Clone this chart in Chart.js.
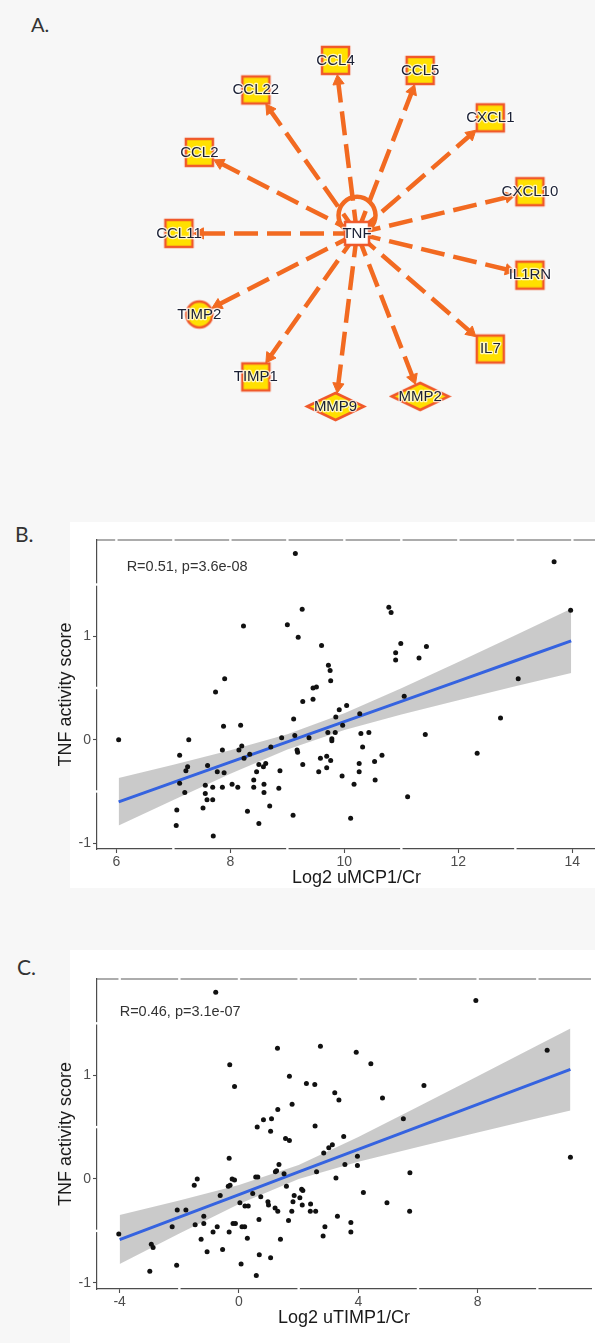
<!DOCTYPE html>
<html><head><meta charset="utf-8">
<script src="https://cdn.jsdelivr.net/npm/chart.js@4.4.0/dist/chart.umd.min.js"></script>
<style>
html,body{margin:0;padding:0;}
body{width:595px;height:1343px;overflow:hidden;background:#f7f7f7;position:relative;font-family:"Liberation Sans",Arial,sans-serif;}
.lbl{position:absolute;font-family:Lato,"Open Sans",sans-serif;font-size:21px;line-height:21px;color:#333;}
.paper{position:absolute;background:#fff;}
canvas{position:absolute;}
</style></head><body>
<div class="lbl" style="left:31px;top:14px;font-size:20px;line-height:20px;">A.</div>
<div class="paper" style="left:70px;top:522px;width:525px;height:366px;"></div>
<div class="lbl" style="left:15px;top:523px;">B.</div>
<div class="paper" style="left:70px;top:950px;width:525px;height:393px;"></div>
<div class="lbl" style="left:17px;top:956px;">C.</div>
<canvas id="cA" width="595" height="475" style="left:0;top:0;"></canvas>
<canvas id="cB" width="620" height="400" style="left:0;top:500px;"></canvas>
<canvas id="cC" width="595" height="415" style="left:0;top:925px;"></canvas>
<script>
// ================= DATA =================
// Panel A: TNF upstream-regulator network (radial layout, clockwise from CCL11)
const hubName = 'TNF';
const spokeNames = ['CCL11','CCL2','CCL22','CCL4','CCL5','CXCL1','CXCL10','IL1RN','IL7','MMP2','MMP9','TIMP1','TIMP2'];
const spokeTypes = ['cytokine','cytokine','cytokine','cytokine','cytokine','cytokine','cytokine','cytokine','cytokine','peptidase','peptidase','cytokine','other'];

// Panel B: Log2 uMCP1/Cr vs TNF activity score
const bX = [6.04,9.14,13.68,13.97,9.26,8.23,9.00,9.19,9.60,10.78,10.82,10.99,10.90,10.90,11.44,11.31,9.72,9.75,9.76,7.90,7.74,9.51,9.45,9.45,9.27,10.04,9.91,11.05,13.05,12.74,9.85,9.11,9.97,10.27,7.88,8.18,7.27,8.90,9.13,9.38,9.71,9.84,9.78,9.78,10.29,10.43,11.42,7.11,7.25,7.22,7.86,8.20,8.15,8.34,8.24,8.71,9.17,9.18,7.60,7.77,7.89,8.50,8.62,8.58,8.46,8.87,9.27,9.58,9.69,9.76,9.69,9.55,9.96,10.26,10.26,10.32,10.53,10.66,10.54,10.17,11.11,12.33,7.11,7.20,7.56,7.56,7.59,7.69,7.69,7.86,8.03,8.13,8.41,8.41,8.59,8.59,8.85,8.69,8.30,7.52,7.06,7.05,8.50,9.10,10.11,7.70];
const bY = [0.00,1.80,1.72,1.25,1.26,1.10,1.11,0.99,0.91,1.28,1.23,0.93,0.84,0.77,0.90,0.79,0.72,0.67,0.57,0.59,0.46,0.51,0.50,0.39,0.37,0.33,0.29,0.42,0.59,0.21,0.22,0.20,0.14,0.25,0.13,0.14,0.00,0.02,0.04,0.02,0.07,0.07,0.01,-0.01,0.06,0.07,0.05,-0.15,-0.26,-0.30,-0.10,-0.06,-0.10,-0.14,-0.18,-0.07,-0.10,-0.12,-0.25,-0.31,-0.32,-0.24,-0.23,-0.26,-0.31,-0.30,-0.24,-0.18,-0.16,-0.20,-0.27,-0.31,-0.35,-0.23,-0.31,-0.07,-0.21,-0.15,-0.39,-0.43,-0.55,-0.13,-0.42,-0.51,-0.44,-0.52,-0.58,-0.58,-0.46,-0.46,-0.43,-0.46,-0.39,-0.46,-0.51,-0.43,-0.47,-0.64,-0.69,-0.66,-0.68,-0.83,-0.81,-0.73,-0.76,-0.93];
const bFitX = [6.04,7,8,9,10,11,12,13,13.98];
const bFitY = [-0.600,-0.412,-0.216,-0.020,0.175,0.371,0.567,0.763,0.955];
const bFitLo = [-0.830,-0.583,-0.330,-0.094,0.094,0.244,0.382,0.516,0.645];
const bFitHi = [-0.370,-0.241,-0.102,0.054,0.256,0.498,0.752,1.010,1.265];
const bXTicks = [6,8,10,12,14];
const bYTicks = [-1,0,1];
const bLabel = 'R=0.51, p=3.6e-08';

// Panel C: Log2 uTIMP1/Cr vs TNF activity score
const cX = [-0.78,7.94,10.33,11.11,1.29,2.73,3.93,4.42,-0.31,-0.15,1.69,2.26,2.54,6.20,3.21,3.35,4.81,1.78,1.30,0.82,1.09,0.61,1.06,2.55,5.51,1.56,1.69,3.51,3.13,3.01,2.84,3.97,3.97,3.55,-0.33,1.34,1.22,1.26,1.51,2.60,5.73,3.25,-1.40,-0.23,-0.15,0.56,0.63,-1.50,-0.36,-0.30,1.59,2.10,2.14,-0.63,0.46,0.73,1.85,2.04,4.17,0.03,0.20,0.31,0.97,0.99,1.21,1.30,1.81,2.12,2.40,2.39,2.57,1.77,4.96,5.72,-2.07,-1.78,-1.47,-1.18,-1.18,-2.24,-0.73,-0.87,-0.33,-0.20,-0.12,0.10,0.19,0.67,1.66,2.88,3.30,3.75,3.75,2.82,-4.03,-1.27,0.28,1.39,-2.94,-2.88,-1.07,-0.55,0.68,1.06,0.07,-2.09,-2.99,0.58];
const cY = [1.80,1.72,1.24,0.21,1.26,1.28,1.22,1.11,1.10,0.89,0.99,0.92,0.91,0.90,0.83,0.76,0.78,0.72,0.67,0.57,0.58,0.50,0.46,0.51,0.58,0.39,0.37,0.41,0.33,0.30,0.25,0.22,0.13,0.14,0.20,0.14,0.07,0.08,0.05,0.07,0.06,0.01,0.00,0.00,-0.01,0.02,0.02,-0.06,-0.07,-0.06,-0.07,-0.10,-0.11,-0.16,-0.14,-0.17,-0.16,-0.18,-0.13,-0.23,-0.26,-0.26,-0.22,-0.25,-0.28,-0.31,-0.22,-0.25,-0.24,-0.31,-0.31,-0.31,-0.23,-0.31,-0.30,-0.30,-0.44,-0.36,-0.43,-0.46,-0.46,-0.51,-0.51,-0.43,-0.43,-0.46,-0.46,-0.39,-0.40,-0.46,-0.36,-0.42,-0.51,-0.55,-0.53,-0.58,-0.57,-0.58,-0.63,-0.66,-0.70,-0.68,-0.73,-0.76,-0.82,-0.83,-0.89,-0.93];
const cFitX = [-4,-2,0,2,4,6,8,10,11.11];
const cFitY = [-0.584,-0.367,-0.150,0.068,0.285,0.502,0.719,0.936,1.056];
const cFitLo = [-0.820,-0.526,-0.241,0.001,0.166,0.309,0.448,0.585,0.661];
const cFitHi = [-0.348,-0.208,-0.059,0.135,0.404,0.695,0.990,1.287,1.451];
const cXTicks = [-4,0,4,8];
const cYTicks = [-1,0,1];
const cLabel = 'R=0.46, p=3.1e-07';

// ================= STYLE =================
Chart.defaults.font.family = '"Liberation Sans", Arial, Helvetica, sans-serif';
const EDGE = '#f26a21';
const NODE_BORDER = '#f0592a';
const NODE_FILL = '#ffe000';
const shapeStyle = {
  hub:       {kind:'rect',    w:26, h:25, fill:'#ffffff'},
  cytokine:  {kind:'rect',    w:29, h:29, fill:NODE_FILL},
  peptidase: {kind:'diamond', w:59, h:29, fill:NODE_FILL},
  other:     {kind:'circle',  w:28, h:28, fill:NODE_FILL}
};
function makeShape(type){
  const s = shapeStyle[type];
  const c = document.createElement('canvas');
  c.width = s.w + 4; c.height = s.h + 4;
  const g = c.getContext('2d');
  const cx = c.width/2, cy = c.height/2, hw = s.w/2 - 1, hh = s.h/2 - 1;
  g.beginPath();
  if (s.kind === 'rect') g.rect(cx-hw, cy-hh, 2*hw, 2*hh);
  else if (s.kind === 'diamond') { g.moveTo(cx-hw,cy); g.lineTo(cx,cy-hh); g.lineTo(cx+hw,cy); g.lineTo(cx,cy+hh); g.closePath(); }
  else g.arc(cx, cy, hw, 0, Math.PI*2);
  g.fillStyle = s.fill; g.fill();
  g.lineWidth = 2.5; g.strokeStyle = NODE_BORDER; g.lineJoin = 'miter'; g.stroke();
  return c;
}
function boundary(type, ux, uy){
  const s = shapeStyle[type], hw = s.w/2, hh = s.h/2;
  if (s.kind === 'rect') return Math.min(Math.abs(ux) > 1e-9 ? hw/Math.abs(ux) : 1e9, Math.abs(uy) > 1e-9 ? hh/Math.abs(uy) : 1e9);
  if (s.kind === 'diamond') return 1/(Math.abs(ux)/hw + Math.abs(uy)/hh);
  return hw;
}

// ================= PANEL A =================
const RING = 193, START_DEG = 180, STEP_DEG = 360/spokeNames.length, ARROW_R = 6.5;
const nodes = spokeNames.map((n,i)=>{
  const a = (START_DEG + i*STEP_DEG)*Math.PI/180;
  const x = RING*Math.cos(a), y = RING*Math.sin(a);
  const d = Math.hypot(x,y), ux = x/d, uy = y/d;
  const t = boundary(spokeTypes[i], ux, uy) + 2;
  const tipX = x - ux*t, tipY = y - uy*t;
  return {name:n, type:spokeTypes[i], x, y,
    ax: tipX - ux*ARROW_R, ay: tipY - uy*ARROW_R, rot: Math.atan2(ux, -uy)*180/Math.PI};
});
const allNodes = [{name:hubName, type:'hub', x:0, y:0}].concat(nodes);

const nodeLabels = {
  id:'nodeLabels',
  afterDatasetsDraw(chart){
    const meta = chart.getDatasetMeta(0);
    const ctx = chart.ctx;
    ctx.save();
    ctx.font = '15px "Liberation Sans", Arial, sans-serif';
    ctx.textAlign = 'center'; ctx.textBaseline = 'middle';
    meta.data.forEach((el,i)=>{
      const name = allNodes[i].name;
      ctx.lineWidth = 2.5; ctx.strokeStyle = 'rgba(255,255,255,0.75)'; ctx.lineJoin='round';
      ctx.strokeText(name, el.x, el.y);
      ctx.fillStyle = '#1a2035';
      ctx.fillText(name, el.x, el.y);
    });
    ctx.restore();
  }
};

new Chart(document.getElementById('cA'), {
  type:'scatter',
  data:{datasets:[
    {type:'scatter', data:allNodes.map(n=>({x:n.x,y:n.y})), pointStyle:allNodes.map(n=>makeShape(n.type)), pointRadius:10, order:0},
    {type:'scatter', data:[{x:0,y:-20}], pointStyle:'circle', pointRadius:18.5, pointBorderWidth:4.5, pointBorderColor:EDGE, pointBackgroundColor:'rgba(0,0,0,0)', order:2},
    {type:'scatter', data:nodes.map(n=>({x:n.ax,y:n.ay})), pointStyle:'triangle', pointRadius:ARROW_R, pointRotation:nodes.map(n=>n.rot), pointBackgroundColor:EDGE, pointBorderColor:EDGE, pointBorderWidth:1, order:1}
  ].concat(nodes.map(n=>({
    type:'line', data:[{x:0,y:0},{x:n.ax,y:n.ay}], borderColor:EDGE, borderWidth:4.5, borderDash:[24,9], borderCapStyle:'butt', pointRadius:0, fill:false, order:3
  })))},
  options:{
    responsive:false, animation:false, devicePixelRatio:1,
    layout:{padding:0},
    plugins:{legend:{display:false}, tooltip:{enabled:false}},
    scales:{
      x:{type:'linear', display:false, min:-362, max:233},
      y:{type:'linear', display:false, min:-233, max:242, reverse:true}
    }
  },
  plugins:[nodeLabels]
});

// ================= PANELS B & C =================
const frameGaps = {
  id:'frameGaps',
  afterDraw(chart, args, o){
    const {ctx, chartArea:a, scales:{x,y}} = chart;
    ctx.save();
    ctx.strokeStyle = '#5a5a5a'; ctx.lineWidth = 1.2;
    ctx.beginPath(); ctx.moveTo(a.left, a.top); ctx.lineTo(a.right, a.top); ctx.stroke();
    ctx.fillStyle = '#ffffff';
    const isMajor = (v, m) => Math.abs(v/m - Math.round(v/m)) < 1e-6;
    const i0 = Math.ceil(x.min/o.xMinor), i1 = Math.floor(x.max/o.xMinor);
    for (let i=i0;i<=i1;i++){
      const v = i*o.xMinor, px = x.getPixelForValue(v);
      ctx.fillRect(px-1.2, a.top-1.5, 2.4, 3);
      if (!isMajor(v,o.xMajor)) ctx.fillRect(px-1.2, a.bottom-1.5, 2.4, 3);
    }
    const j0 = Math.ceil(y.min/o.yMinor), j1 = Math.floor(y.max/o.yMinor);
    for (let j=j0;j<=j1;j++){
      const v = j*o.yMinor, py = y.getPixelForValue(v);
      if (!isMajor(v,o.yMajor)) ctx.fillRect(a.left-1.5, py-1.2, 3, 2.4);
    }
    ctx.restore();
  }
};
const corText = {
  id:'corText',
  afterDatasetsDraw(chart, args, o){
    const {ctx, scales:{x,y}} = chart;
    ctx.save();
    ctx.font = '14.5px "Liberation Sans", Arial, sans-serif';
    ctx.fillStyle = '#333333'; ctx.textAlign = 'left'; ctx.textBaseline = 'middle';
    ctx.fillText(o.text, x.getPixelForValue(o.x), y.getPixelForValue(o.y));
    ctx.restore();
  }
};
function scatterPanel(id, c){
  const pts = (xs, ys) => xs.map((v,i)=>({x:v, y:ys[i]}));
  return new Chart(document.getElementById(id), {
    type:'scatter',
    data:{datasets:[
      {type:'scatter', data:pts(c.x,c.y), pointStyle:'circle', pointRadius:2.5, pointBackgroundColor:'#111', pointBorderWidth:0, order:0},
      {type:'line', data:pts(c.fitX,c.fitY), borderColor:'#3563e0', borderWidth:3, pointRadius:0, fill:false, order:1},
      {type:'line', data:pts(c.fitX,c.fitHi), borderColor:'rgba(0,0,0,0)', borderWidth:0, pointRadius:0, fill:'+1', backgroundColor:'rgba(150,150,150,0.5)', order:2},
      {type:'line', data:pts(c.fitX,c.fitLo), borderColor:'rgba(0,0,0,0)', borderWidth:0, pointRadius:0, fill:false, order:3}
    ]},
    options:{
      responsive:false, animation:false, devicePixelRatio:1,
      layout:{padding:{top:c.padTop, left:0, right:0, bottom:0}},
      plugins:{legend:{display:false}, tooltip:{enabled:false},
        frameGaps:{xMinor:c.xMinor, xMajor:c.xMajor, yMinor:0.5, yMajor:1},
        corText:{text:c.label, x:c.lx, y:c.ly}},
      scales:{
        x:{type:'linear', min:c.xMin, max:c.xMax,
          afterBuildTicks:s=>{ s.ticks = c.xTicks.map(v=>({value:v})); },
          afterFit:s=>{ s.height = 51; },
          grid:{drawOnChartArea:false, drawTicks:true, tickLength:4, tickColor:'#4d4d4d', tickWidth:1.1, color:'#4d4d4d'},
          border:{display:true, color:'#4d4d4d', width:1.2},
          ticks:{color:'#4d4d4d', font:{size:14}, padding:1, autoSkip:false, maxRotation:0, callback:v=>String(v)},
          title:{display:true, text:c.xTitle, color:'#1a1a1a', font:{size:18}, padding:{top:0,bottom:11}}
        },
        y:{type:'linear', min:c.yMin, max:c.yMax,
          afterBuildTicks:s=>{ s.ticks = c.yTicks.map(v=>({value:v})); },
          afterFit:s=>{ s.width = 97; },
          grid:{drawOnChartArea:false, drawTicks:true, tickLength:4, tickColor:'#4d4d4d', tickWidth:1.1, color:'#4d4d4d'},
          border:{display:true, color:'#4d4d4d', width:1.2},
          ticks:{color:'#4d4d4d', font:{size:14}, padding:2, autoSkip:false, callback:v=>String(v)},
          title:{display:true, text:'TNF activity score', color:'#1a1a1a', font:{size:18}, padding:{top:55,bottom:0}}
        }
      }
    },
    plugins:[frameGaps, corText]
  });
}
scatterPanel('cB', {x:bX, y:bY, fitX:bFitX, fitY:bFitY, fitLo:bFitLo, fitHi:bFitHi,
  xTicks:bXTicks, yTicks:bYTicks, xMin:5.66, xMax:14.766, yMin:-1.056, yMax:1.93,
  xMinor:1, xMajor:2, padTop:40, label:bLabel, lx:6.18, ly:1.67, xTitle:'Log2 uMCP1/Cr'});
scatterPanel('cC', {x:cX, y:cY, fitX:cFitX, fitY:cFitY, fitLo:cFitLo, fitHi:cFitHi,
  xTicks:cXTicks, yTicks:cYTicks, xMin:-4.76, xMax:11.80, yMin:-1.06, yMax:1.927,
  xMinor:2, xMajor:4, padTop:54, label:cLabel, lx:-4.0, ly:1.61, xTitle:'Log2 uTIMP1/Cr'});
</script>
</body></html>
